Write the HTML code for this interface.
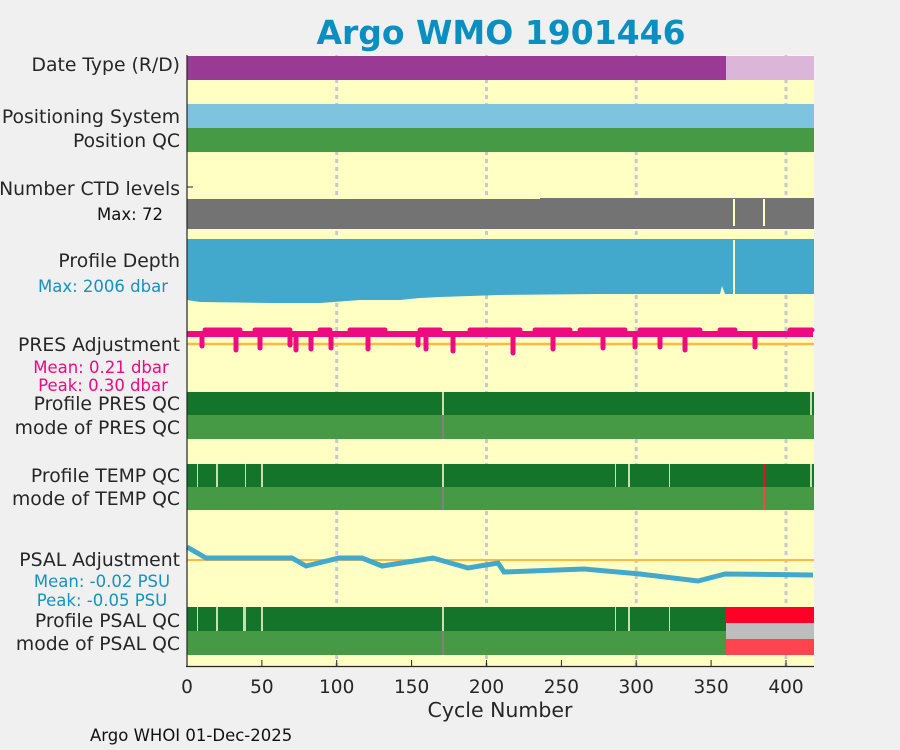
<!DOCTYPE html>
<html><head><meta charset="utf-8"><style>
body{margin:0;background:#f0f0f0;width:900px;height:750px;overflow:hidden;font-family:"DejaVu Sans","Liberation Sans",sans-serif}
</style></head><body>
<svg width="900" height="750" xmlns="http://www.w3.org/2000/svg" style="position:absolute;left:0;top:0">
<rect width="900" height="750" fill="#f0f0f0"/>
<text x="501" y="44" text-anchor="middle" font-size="33" font-weight="bold" fill="#0a8fc0" font-family="DejaVu Sans, sans-serif">Argo WMO 1901446</text>
<rect x="187" y="55" width="627" height="611" fill="#ffffc4"/>
<g stroke="#c8c8d0" stroke-width="3" stroke-dasharray="4,4">
<line x1="336.7" y1="55" x2="336.7" y2="666"/><line x1="486.5" y1="55" x2="486.5" y2="666"/><line x1="636.2" y1="55" x2="636.2" y2="666"/><line x1="786" y1="55" x2="786" y2="666"/>
</g>
<rect x="187" y="56" width="539" height="24" fill="#993a94"/>
<rect x="726" y="56" width="88" height="24" fill="#dbb6d8"/>
<rect x="187" y="104" width="627" height="24" fill="#7fc4de"/>
<rect x="187" y="128" width="627" height="24" fill="#469945"/>
<rect x="187" y="199" width="627" height="30" fill="#737373"/>
<rect x="540" y="198" width="274" height="1" fill="#737373"/>
<rect x="733" y="199" width="2" height="27" fill="#ffffc4"/><rect x="763" y="199" width="2" height="27" fill="#ffffc4"/>
<path d="M187,239 H814 V294 H735 L733,294 V240 L733,294 L725,294 L722,286 L720,294 H600 V294 L500,295 L470,296 L440,297 L420,298 L400,300 H360 L320,303 H270 L200,302 L187,300 Z" fill="#43a9cc"/>
<rect x="733" y="240" width="2" height="57" fill="#ffffc4"/>
<line x1="187" y1="344" x2="814" y2="344" stroke="#ffb840" stroke-width="2.5"/>
<rect x="187" y="331" width="626" height="6" fill="#ee0a80"/>
<g stroke="#ee0a80" stroke-width="5" stroke-linecap="round" fill="none">
<path d="M202,336 V346 M236,336 V350 M260,336 V348 M290,336 V345 M296,336 V350 M311,336 V349 M331,336 V348 M368,336 V349 M418,336 V345 M426,336 V349 M453,336 V351 M513,336 V353 M553,336 V349 M603,336 V348 M635,336 V347 M660,336 V347 M685,336 V350 M755,336 V347"/>
<path d="M205,330 H240 M255,330 H290 M320,330 H330 M350,330 H385 M420,330 H440 M470,330 H520 M535,330 H570 M580,330 H625 M640,330 H700 M720,330 H735 M790,330 H812"/>
</g>
<rect x="187" y="392" width="627" height="23" fill="#13742a"/>
<rect x="187" y="415" width="627" height="24" fill="#469945"/>
<rect x="442" y="392" width="2" height="23" fill="#c8e0b0"/><rect x="442" y="415" width="2" height="24" fill="#808080"/>
<rect x="810" y="392" width="2" height="23" fill="#c8e0b0"/>
<rect x="187" y="464" width="627" height="23" fill="#13742a"/>
<rect x="187" y="487" width="627" height="23" fill="#469945"/>
<g fill="#c8e0b0"><rect x="197" y="464" width="1" height="23"/><rect x="216" y="464" width="2" height="23"/><rect x="245" y="464" width="1" height="23"/><rect x="261" y="464" width="2" height="23"/><rect x="442" y="464" width="2" height="23"/><rect x="615" y="464" width="1" height="23"/><rect x="628" y="464" width="2" height="23"/><rect x="669" y="464" width="1" height="23"/><rect x="810" y="464" width="2" height="23"/></g>
<rect x="763" y="464" width="2" height="23" fill="#e8102a"/><rect x="763" y="487" width="2" height="23" fill="#f04848"/>
<rect x="442" y="487" width="2" height="23" fill="#808080"/>
<line x1="187" y1="560" x2="814" y2="560" stroke="#ffb840" stroke-width="2"/>
<polyline fill="none" stroke="#43a9cc" stroke-width="5" points="187,547 206,558 292,558 306,566 339,558 362,558 382,566 433,558 468,568 498,563 504,572 584,569 640,574 698,581 725,574 813,575"/>
<rect x="187" y="607" width="539" height="24" fill="#13742a"/>
<rect x="187" y="631" width="539" height="24" fill="#469945"/>
<g fill="#c8e0b0"><rect x="197" y="607" width="1" height="24"/><rect x="216" y="607" width="2" height="24"/><rect x="243" y="607" width="3" height="24"/><rect x="261" y="607" width="2" height="24"/><rect x="442" y="607" width="2" height="24"/><rect x="615" y="607" width="1" height="24"/><rect x="628" y="607" width="2" height="24"/><rect x="669" y="607" width="1" height="24"/></g>
<rect x="442" y="631" width="2" height="24" fill="#808080"/>
<rect x="726" y="607" width="88" height="16" fill="#ff0028"/>
<rect x="726" y="623" width="88" height="16" fill="#bdbdbd"/>
<rect x="726" y="639" width="88" height="16" fill="#ff4450"/>
<line x1="187" y1="55" x2="187" y2="667" stroke="#262626" stroke-width="1.2"/>
<line x1="186" y1="666.5" x2="814" y2="666.5" stroke="#262626" stroke-width="1.2"/>
<line x1="187" y1="187" x2="193" y2="187" stroke="#262626"/>
<g stroke="#262626"><line x1="187" y1="666" x2="187" y2="660"/><line x1="261.9" y1="666" x2="261.9" y2="660"/><line x1="336.7" y1="666" x2="336.7" y2="660"/><line x1="411.6" y1="666" x2="411.6" y2="660"/><line x1="486.5" y1="666" x2="486.5" y2="660"/><line x1="561.4" y1="666" x2="561.4" y2="660"/><line x1="636.2" y1="666" x2="636.2" y2="660"/><line x1="711.1" y1="666" x2="711.1" y2="660"/><line x1="786" y1="666" x2="786" y2="660"/></g>
<g font-size="18.5" fill="#262626" text-anchor="middle">
<text x="187" y="693">0</text><text x="261.9" y="693">50</text><text x="336.7" y="693">100</text><text x="411.6" y="693">150</text><text x="486.5" y="693">200</text><text x="561.4" y="693">250</text><text x="636.2" y="693">300</text><text x="711.1" y="693">350</text><text x="786" y="693">400</text>
<text x="500" y="717" font-size="20.5">Cycle Number</text>
</g>
<g font-size="18.8" fill="#262626" text-anchor="end">
<text x="180" y="71">Date Type (R/D)</text>
<text x="180" y="123">Positioning System</text>
<text x="180" y="147">Position QC</text>
<text x="180" y="195">Number CTD levels</text>
<text x="180" y="267">Profile Depth</text>
<text x="180" y="351">PRES Adjustment</text>
<text x="180" y="410">Profile PRES QC</text>
<text x="180" y="434">mode of PRES QC</text>
<text x="180" y="482">Profile TEMP QC</text>
<text x="180" y="505">mode of TEMP QC</text>
<text x="180" y="566">PSAL Adjustment</text>
<text x="180" y="627">Profile PSAL QC</text>
<text x="180" y="650">mode of PSAL QC</text>
</g>
<g font-size="16.5" text-anchor="middle">
<text x="130" y="220" fill="#111">Max: 72</text>
<text x="103" y="292" fill="#1493c0">Max: 2006 dbar</text>
<text x="101" y="373" fill="#ee0a80">Mean: 0.21 dbar</text>
<text x="103" y="391" fill="#ee0a80">Peak: 0.30 dbar</text>
<text x="102" y="587" fill="#1493c0">Mean: -0.02 PSU</text>
<text x="102" y="606" fill="#1493c0">Peak: -0.05 PSU</text>
</g>
<text x="90" y="741" font-size="16.5" fill="#111">Argo WHOI 01-Dec-2025</text>
</svg>
</body></html>
